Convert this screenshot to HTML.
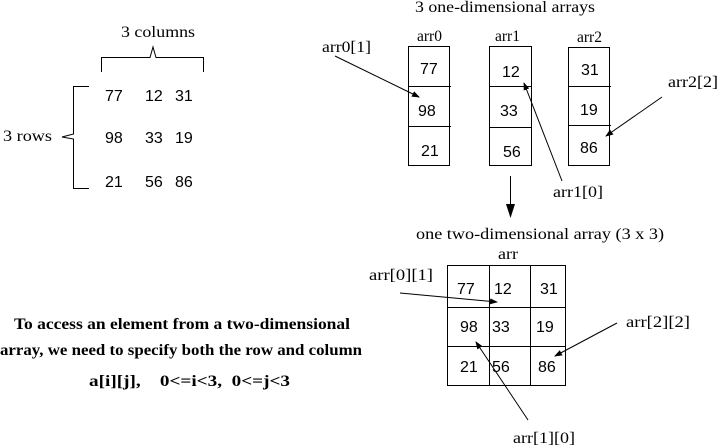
<!DOCTYPE html>
<html><head><meta charset="utf-8"><style>body{margin:0;background:#fff}svg{display:block}</style></head><body>
<svg width="719" height="448" xmlns="http://www.w3.org/2000/svg">
<defs><marker id="a" markerWidth="8" markerHeight="6" refX="7" refY="3" orient="auto" markerUnits="userSpaceOnUse"><path d="M0,0 L8,3 L0,6z" fill="#000"/></marker></defs>
<g font-family="Liberation Serif, serif" font-size="16" fill="#000">
<text x="121" y="37" textLength="74" lengthAdjust="spacingAndGlyphs">3 columns</text>
<text x="3" y="141" textLength="49" lengthAdjust="spacingAndGlyphs">3 rows</text>
<text x="415" y="12" textLength="180" lengthAdjust="spacingAndGlyphs">3 one-dimensional arrays</text>
<text x="417" y="41" textLength="25" lengthAdjust="spacingAndGlyphs">arr0</text>
<text x="495" y="41" textLength="25" lengthAdjust="spacingAndGlyphs">arr1</text>
<text x="577" y="42" textLength="25" lengthAdjust="spacingAndGlyphs">arr2</text>
<text x="322" y="52" textLength="49" lengthAdjust="spacingAndGlyphs">arr0[1]</text>
<text x="553" y="197" textLength="50" lengthAdjust="spacingAndGlyphs">arr1[0]</text>
<text x="668" y="87" textLength="50" lengthAdjust="spacingAndGlyphs">arr2[2]</text>
<text x="416" y="239" textLength="248" lengthAdjust="spacingAndGlyphs">one two-dimensional array (3 x 3)</text>
<text x="498" y="259" textLength="20" lengthAdjust="spacingAndGlyphs">arr</text>
<text x="369" y="280" textLength="64" lengthAdjust="spacingAndGlyphs">arr[0][1]</text>
<text x="626" y="327" textLength="64" lengthAdjust="spacingAndGlyphs">arr[2][2]</text>
<text x="513" y="443" textLength="62" lengthAdjust="spacingAndGlyphs">arr[1][0]</text>
</g>
<g font-family="Liberation Serif, serif" font-size="16" font-weight="bold">
<text x="14" y="329" textLength="336" lengthAdjust="spacingAndGlyphs">To access an element from a two-dimensional</text>
<text x="0" y="355" textLength="362" lengthAdjust="spacingAndGlyphs">array, we need to specify both the row and column</text>
<text x="89" y="386" textLength="201" lengthAdjust="spacingAndGlyphs" xml:space="preserve">a[i][j],    0&lt;=i&lt;3,  0&lt;=j&lt;3</text>
</g>
<g font-family="Liberation Sans, sans-serif" font-size="16">
<text x="105" y="101">77</text><text x="145" y="101">12</text><text x="175" y="101">31</text>
<text x="105" y="143">98</text><text x="145" y="143">33</text><text x="175" y="143">19</text>
<text x="105" y="187">21</text><text x="145" y="187">56</text><text x="175" y="187">86</text>
<text x="420" y="74">77</text><text x="418" y="116">98</text><text x="421" y="156">21</text>
<text x="502" y="77">12</text><text x="500" y="116">33</text><text x="503" y="157">56</text>
<text x="581" y="75">31</text><text x="580" y="115">19</text><text x="580" y="153">86</text>
<text x="457" y="294">77</text><text x="494" y="294">12</text><text x="540" y="294">31</text>
<text x="460" y="332">98</text><text x="492" y="332">33</text><text x="536" y="332">19</text>
<text x="460" y="372">21</text><text x="492" y="372">56</text><text x="538" y="372">86</text>
</g>
<g stroke="#000" fill="none" stroke-width="1">
<path d="M101.5,72 V57.5 H150 L153,47 L156,57.5 H203.5 V72"/>
<path d="M89,86.5 H73.5 V134 L62,137 L73.5,139 V188.5 H89"/>
<rect x="408.5" y="46.5" width="41" height="119"/>
<path d="M408,86.5 H451 M408,126.5 H451"/>
<rect x="489.5" y="46.5" width="42" height="119"/>
<path d="M489,86.5 H532 M489,127.5 H532"/>
<rect x="568.5" y="47.5" width="41" height="118"/>
<path d="M568,86.5 H611 M568,125.5 H611"/>
<rect x="447.5" y="265.5" width="118" height="120"/>
<path d="M489.5,265 V386 M530.5,265 V386 M447,307.5 H566 M447,346.5 H566"/>
<line x1="335" y1="56" x2="419" y2="97" marker-end="url(#a)"/>
<line x1="562" y1="181" x2="524" y2="83" marker-end="url(#a)"/>
<line x1="662" y1="97" x2="606" y2="136" marker-end="url(#a)"/>
<line x1="400" y1="293" x2="497" y2="302" marker-end="url(#a)"/>
<line x1="617" y1="323" x2="555" y2="356" marker-end="url(#a)"/>
<line x1="528" y1="420" x2="476" y2="342" marker-end="url(#a)"/>
<line x1="510.5" y1="176" x2="510.5" y2="208"/>
</g>
<path d="M506,204 L515,204 L510.5,218z" fill="#000"/>
</svg>
</body></html>
